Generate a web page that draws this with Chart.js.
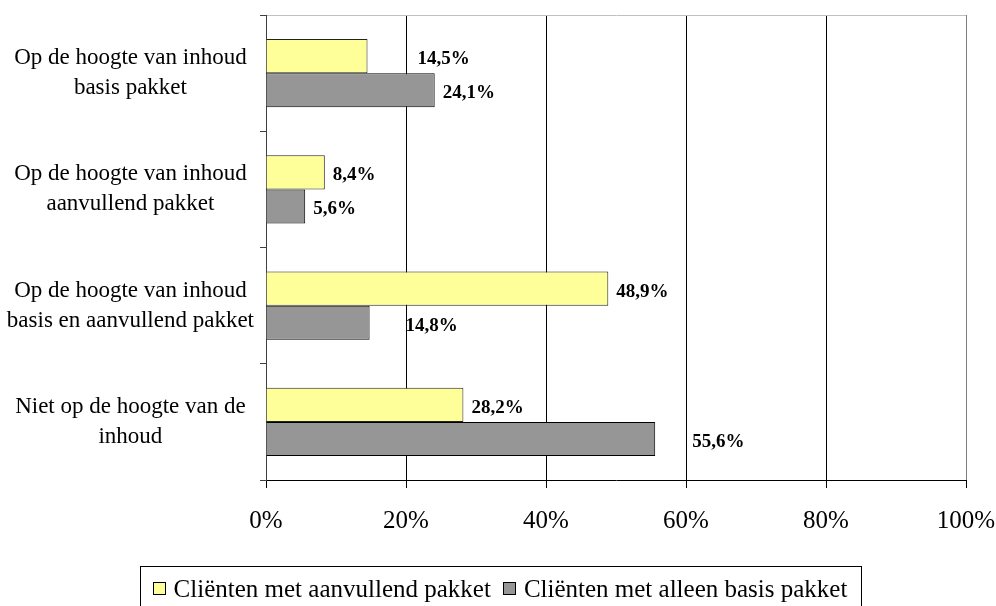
<!DOCTYPE html>
<html>
<head>
<meta charset="utf-8">
<script src="https://cdn.jsdelivr.net/npm/chart.js@4.4.1/dist/chart.umd.min.js"></script>
<style>
  html, body { margin: 0; padding: 0; background: #fff; }
  #wrap { width: 996px; height: 606px; }
</style>
</head>
<body>
<div id="wrap"><canvas id="chart"></canvas></div>
<script>
// categorieën, van boven naar beneden
const categories = [
  ['Op de hoogte van inhoud', 'basis pakket'],
  ['Op de hoogte van inhoud', 'aanvullend pakket'],
  ['Op de hoogte van inhoud', 'basis en aanvullend pakket'],
  ['Niet op de hoogte van de', 'inhoud']
];
const seriesNames = ['Cliënten met aanvullend pakket', 'Cliënten met alleen basis pakket'];
const aanvullend = [14.5, 8.4, 48.9, 28.2];
const alleenBasis = [24.1, 5.6, 14.8, 55.6];
const xTicks = [0, 20, 40, 60, 80, 100];

// verschuiving van de waardelabels (px vanaf einde balk)
const shiftAanvullend = [50, 8, 8, 8];
const shiftBasis = [8, 8, 36, 37];

const serif = '"Liberation Serif", "Times New Roman", serif';

// waardelabels naast de balken
const valueLabels = {
  id: 'valueLabels',
  afterDatasetsDraw(chart) {
    const ctx = chart.ctx;
    ctx.save();
    ctx.font = 'bold 19px ' + serif;
    ctx.fillStyle = '#000';
    ctx.textAlign = 'left';
    ctx.textBaseline = 'middle';
    chart.data.datasets.forEach((ds, i) => {
      chart.getDatasetMeta(i).data.forEach((bar, j) => {
        const txt = ds.data[j].toFixed(1).replace('.', ',') + '%';
        ctx.fillText(txt, bar.x + ds.labelShift[j], bar.y + 3);
      });
    });
    ctx.restore();
  }
};

// legenda met kader onderaan
const boxedLegend = {
  id: 'boxedLegend',
  afterDraw(chart) {
    const ctx = chart.ctx;
    ctx.save();
    ctx.font = '25px ' + serif;
    const sq = 12, gapTxt = 9, gapItem = 12, pad = 13;
    const sets = chart.data.datasets;
    const widths = sets.map(ds => ctx.measureText(ds.label).width);
    const total = widths.reduce((a, w) => a + sq + gapTxt + w, 0) + gapItem * (widths.length - 1);
    let x = chart.width / 2 + 2 - total / 2;
    const top = chart.height - 40;

    ctx.strokeStyle = '#000';
    ctx.lineWidth = 1;
    ctx.strokeRect(Math.round(x - pad) + 0.5, top + 0.5, Math.round(total + pad * 2), 60);

    ctx.textBaseline = 'alphabetic';
    ctx.textAlign = 'left';
    sets.forEach((ds, i) => {
      const sx = Math.round(x);
      ctx.fillStyle = ds.backgroundColor;
      ctx.fillRect(sx, top + 16, sq, sq);
      ctx.strokeStyle = '#000';
      ctx.strokeRect(sx + 0.5, top + 16.5, sq, sq);
      ctx.fillStyle = '#000';
      ctx.fillText(ds.label, x + sq + gapTxt, top + 31);
      x += sq + gapTxt + widths[i] + gapItem;
    });
    ctx.restore();
  }
};

new Chart(document.getElementById('chart'), {
  type: 'bar',
  data: {
    labels: categories,
    datasets: [
      {
        label: seriesNames[0],
        data: aanvullend,
        labelShift: shiftAanvullend,
        backgroundColor: '#FFFF99',
        borderColor: '#222',
        borderWidth: 1,
        categoryPercentage: 0.586,
        barPercentage: 1.0
      },
      {
        label: seriesNames[1],
        data: alleenBasis,
        labelShift: shiftBasis,
        backgroundColor: '#969696',
        borderColor: '#000',
        borderWidth: 1,
        categoryPercentage: 0.586,
        barPercentage: 1.0
      }
    ]
  },
  options: {
    indexAxis: 'y',
    responsive: true,
    maintainAspectRatio: false,
    animation: false,
    layout: { padding: { top: 15, right: 30, bottom: 70, left: 0 } },
    plugins: {
      legend: { display: false },
      tooltip: { enabled: false }
    },
    scales: {
      x: {
        min: 0,
        max: 100,
        afterBuildTicks: s => { s.ticks = xTicks.map(v => ({ value: v })); },
        grid: {
          color: c => (c.tick && c.tick.value === 100) ? '#808080' : '#000',
          tickColor: '#000',
          tickLength: 8
        },
        border: { color: '#000' },
        ticks: {
          color: '#000',
          font: { family: serif, size: 25 },
          padding: 18,
          maxRotation: 0,
          callback: v => v + '%'
        },
        afterFit: s => {
          s.height = 56;
          s.paddingLeft = 0;
          s.paddingRight = 0;
        }
      },
      y: {
        grid: {
          offset: true,
          drawOnChartArea: true,
          color: c => c.index === 0 ? '#c0c0c0' : 'rgba(0,0,0,0)',
          tickColor: '#404040',
          tickLength: 6
        },
        border: { color: '#404040' },
        ticks: {
          color: '#000',
          font: { family: serif, size: 23, lineHeight: 1.3 },
          crossAlign: 'center',
          padding: 6,
          autoSkip: false
        },
        afterFit: s => {
          s.width = 266;
          s.paddingTop = 0;
          s.paddingBottom = 0;
        }
      }
    }
  },
  plugins: [valueLabels, boxedLegend]
});
</script>
</body>
</html>
